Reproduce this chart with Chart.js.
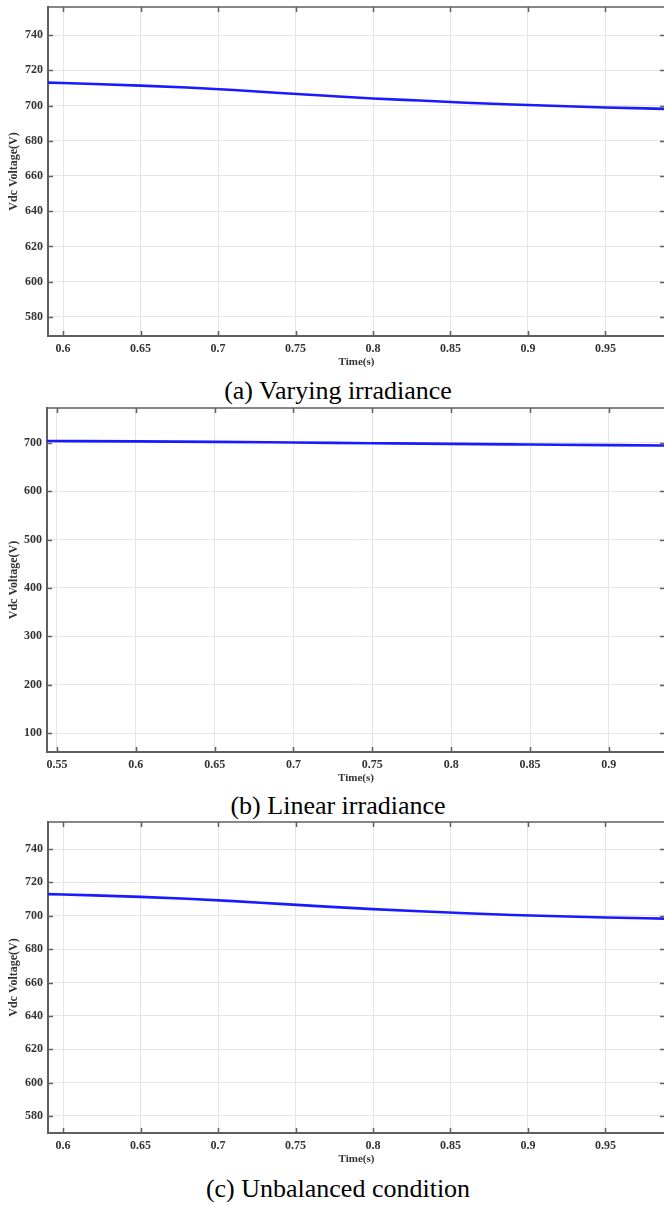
<!DOCTYPE html>
<html>
<head>
<meta charset="utf-8">
<script src="https://cdn.jsdelivr.net/npm/chart.js@4.4.1/dist/chart.umd.min.js"></script>
<style>
  html, body { margin:0; padding:0; background:#fff; width:664px; height:1205px; overflow:hidden; }
  #wrap { position:relative; width:664px; height:1205px; overflow:hidden; }
  canvas { position:absolute; left:0; }
  .cap { position:absolute; left:0; width:676px; text-align:center; font-family:"Liberation Serif","Times New Roman",serif; font-size:26px; line-height:26px; color:#000; white-space:nowrap; }
</style>
</head>
<body>
<div id="wrap">
  <canvas id="ca"></canvas>
  <div class="cap" id="capA"></div>
  <canvas id="cb"></canvas>
  <div class="cap" id="capB"></div>
  <canvas id="cc"></canvas>
  <div class="cap" id="capC"></div>
</div>
<script>
// ---- data ----
const timeA = [0.590, 0.620, 0.650, 0.680, 0.710, 0.740, 0.770, 0.800, 0.830, 0.860, 0.890, 0.920, 0.950, 0.9884];
const vdcA  = [713.0, 712.2, 711.3, 710.2, 708.8, 707.1, 705.5, 704.0, 702.8, 701.6, 700.6, 699.7, 698.9, 698.1];

const timeB = [0.5437, 0.600, 0.650, 0.700, 0.750, 0.800, 0.850, 0.900, 0.9356];
const vdcB  = [704.2, 703.4, 702.4, 701.0, 699.6, 698.2, 696.9, 695.6, 694.7];

const timeC = [0.590, 0.620, 0.650, 0.680, 0.710, 0.740, 0.770, 0.800, 0.830, 0.860, 0.890, 0.920, 0.950, 0.9884];
const vdcC  = [713.0, 712.2, 711.3, 710.2, 708.8, 707.1, 705.5, 704.0, 702.7, 701.5, 700.5, 699.7, 699.0, 698.3];

const xTicksAC = [0.6, 0.65, 0.7, 0.75, 0.8, 0.85, 0.9, 0.95];
const xLabelsAC = ['0.6', '0.65', '0.7', '0.75', '0.8', '0.85', '0.9', '0.95'];
const xTicksB = [0.55, 0.6, 0.65, 0.7, 0.75, 0.8, 0.85, 0.9];
const xLabelsB = ['0.55', '0.6', '0.65', '0.7', '0.75', '0.8', '0.85', '0.9'];
const yTicksAC = [580, 600, 620, 640, 660, 680, 700, 720, 740];
const yTicksB = [100, 200, 300, 400, 500, 600, 700];

const xTitle = 'Time(s)';
const yTitle = 'Vdc Voltage(V)';
const captions = ['(a) Varying irradiance', '(b) Linear irradiance', '(c) Unbalanced condition'];

// ---- styling / layout ----
const TICK_FONT = { family: '"Liberation Serif","Times New Roman",serif', size: 12, weight: 'bold' };
const TITLE_FONT = { family: '"Liberation Serif","Times New Roman",serif', size: 11, weight: 'bold' };
const YTITLE_FONT = { family: '"Liberation Serif","Times New Roman",serif', size: 12, weight: 'bold' };
const TXT = '#333333';
const AXIS = '#5f5f5f';
const GRID = '#e4e4e4';
const LINE = '#1a1aff';
const PADTOP = 15;
const XH = 34;

const boxTicks = {
  id: 'boxTicks',
  afterDraw(chart) {
    const { ctx, chartArea: a, scales } = chart;
    const x = scales.x, y = scales.y;
    const L = 5;
    ctx.save();
    ctx.strokeStyle = AXIS;
    ctx.lineWidth = 1.5;
    ctx.beginPath();
    ctx.moveTo(a.left, a.top); ctx.lineTo(a.right, a.top);
    ctx.moveTo(a.right, a.top); ctx.lineTo(a.right, a.bottom);
    x.ticks.forEach(t => {
      const px = Math.round(x.getPixelForValue(t.value)) + 0.5;
      ctx.moveTo(px, a.bottom); ctx.lineTo(px, a.bottom - L);
      ctx.moveTo(px, a.top); ctx.lineTo(px, a.top + L);
    });
    y.ticks.forEach(t => {
      const py = Math.round(y.getPixelForValue(t.value)) + 0.5;
      ctx.moveTo(a.left, py); ctx.lineTo(a.left + L, py);
      ctx.moveTo(a.right, py); ctx.lineTo(a.right - L, py);
    });
    ctx.stroke();
    ctx.restore();
  }
};

function makeChart(id, times, vals, xT, xL, yT, xmin, xmax, ymin, ymax, chartTop, chartBottom, chartLeft) {
  const cv = document.getElementById(id);
  const canvasTop = chartTop - PADTOP;
  const h = (chartBottom - canvasTop) + XH;
  cv.width = 668; cv.height = h;
  cv.style.top = canvasTop + 'px';
  cv.style.width = '668px'; cv.style.height = h + 'px';
  const pts = times.map((t, i) => ({ x: t, y: vals[i] }));
  return new Chart(cv, {
    type: 'line',
    data: { datasets: [{ data: pts, borderColor: LINE, borderWidth: 2.6, pointRadius: 0, fill: false, cubicInterpolationMode: 'monotone' }] },
    options: {
      responsive: false, animation: false, devicePixelRatio: 1,
      layout: { padding: { top: PADTOP, left: 0, right: 3, bottom: 0 } },
      plugins: { legend: { display: false }, tooltip: { enabled: false } },
      scales: {
        x: {
          type: 'linear', min: xmin, max: xmax,
          afterBuildTicks: s => { s.ticks = xT.map(v => ({ value: v })); },
          afterFit: s => { s.height = XH; },
          ticks: { callback: (v, i) => xL[i], font: TICK_FONT, color: TXT, padding: 6, maxRotation: 0, autoSkip: false },
          grid: { color: GRID, lineWidth: 1, drawTicks: false },
          border: { color: AXIS, width: 2 },
          title: { display: true, text: xTitle, font: TITLE_FONT, color: TXT, padding: { top: 0, bottom: 1 } }
        },
        y: {
          type: 'linear', min: ymin, max: ymax,
          afterBuildTicks: s => { s.ticks = yT.map(v => ({ value: v })); },
          afterFit: s => { s.width = chartLeft; },
          ticks: { callback: v => String(v), font: TICK_FONT, color: TXT, padding: 5, autoSkip: false },
          grid: { color: GRID, lineWidth: 1, drawTicks: false },
          border: { color: AXIS, width: 2 },
          title: { display: true, text: yTitle, font: YTITLE_FONT, color: TXT, padding: { top: 7, bottom: 0 } }
        }
      }
    },
    plugins: [boxTicks]
  });
}

makeChart('ca', timeA, vdcA, xTicksAC, xLabelsAC, yTicksAC, 0.5903, 0.9884, 569.2, 755.9, 7, 336, 48);
makeChart('cb', timeB, vdcB, xTicksB, xLabelsB, yTicksB, 0.5437, 0.9356, 60.7, 772.4, 408, 752, 47);
makeChart('cc', timeC, vdcC, xTicksAC, xLabelsAC, yTicksAC, 0.5903, 0.9884, 569.8, 756.2, 822, 1133, 48);

const capIds = ['capA', 'capB', 'capC'];
const capTops = [378, 793, 1176];
capIds.forEach((id, i) => { const el = document.getElementById(id); el.textContent = captions[i]; el.style.top = capTops[i] + 'px'; });
</script>
</body>
</html>
